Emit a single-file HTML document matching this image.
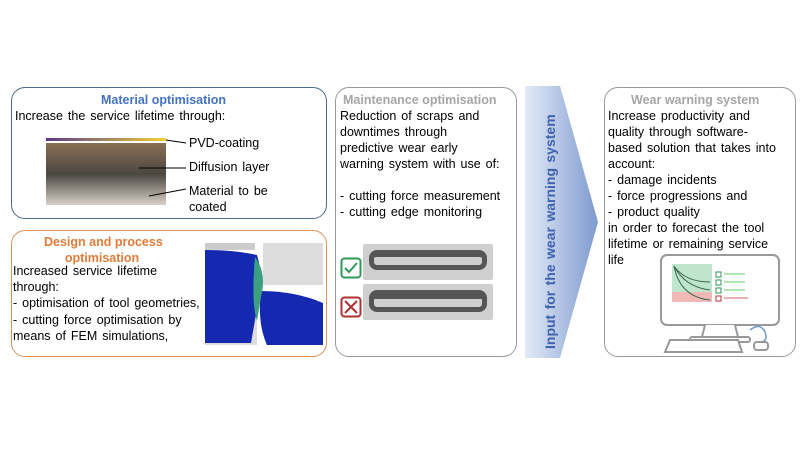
<!DOCTYPE html>
<html><head><meta charset="utf-8"><style>
*{margin:0;padding:0;box-sizing:border-box}
body{width:804px;height:452px;background:#fff;position:relative;overflow:hidden;font-family:"Liberation Sans",sans-serif;font-size:12.5px;word-spacing:1.5px;color:#000}
.b{position:absolute;border-radius:14px;background:#fff}
.t{position:absolute;white-space:nowrap;line-height:16px}
.h{font-weight:bold;font-size:12.5px;word-spacing:0}
</style></head><body>
<div class="b" style="left:11px;top:87px;width:316px;height:132px;border:1px solid #4a6a95"></div>
<div class="b" style="left:11px;top:230px;width:316px;height:127px;border:1px solid #d9925a"></div>
<div class="b" style="left:335px;top:87px;width:182px;height:270px;border:1px solid #999"></div>
<div class="b" style="left:604px;top:87px;width:192px;height:270px;border:1px solid #999"></div>
<svg style="position:absolute;left:520px;top:86px" width="84" height="272">
<defs><linearGradient id="g" x1="0" x2="1"><stop offset="0" stop-color="#e4ebf7"/><stop offset="1" stop-color="#7e9ad0"/></linearGradient></defs>
<polygon points="5,0 40,0 78,136 40,272 5,272" fill="url(#g)"/>
<text transform="translate(35,263) rotate(-90)" font-family="Liberation Sans" font-weight="bold" font-size="14" fill="#3d62b0">Input for the wear warning system</text>
</svg>
<div class="t h" style="left:101px;top:92px;color:#4472c4">Material optimisation</div>
<div class="t" style="left:15px;top:108px">Increase the service lifetime through:</div>
<svg style="position:absolute;left:44px;top:136px" width="150" height="72">
<defs><linearGradient id="c" x1="0" x2="1"><stop offset="0" stop-color="#5a3a8a"/><stop offset="1" stop-color="#f0d030"/></linearGradient>
<linearGradient id="m" x1="0" y1="0" x2="0" y2="1"><stop offset="0" stop-color="#8a7055"/><stop offset=".5" stop-color="#4a4640"/><stop offset="1" stop-color="#d8d0c8"/></linearGradient></defs>
<rect x="2" y="2" width="120" height="3" fill="url(#c)"/>
<rect x="2" y="7" width="120" height="62" fill="url(#m)"/>
<line x1="122" y1="4" x2="142" y2="7" stroke="#000"/>
<line x1="95" y1="32" x2="142" y2="32" stroke="#000"/>
<line x1="105" y1="60" x2="142" y2="53" stroke="#000"/>
</svg>
<div class="t" style="left:189px;top:135px">PVD-coating</div>
<div class="t" style="left:189px;top:159px">Diffusion layer</div>
<div class="t" style="left:189px;top:183px">Material to be<br>coated</div>
<div class="t h" style="left:44px;top:234px;color:#e07b39;line-height:16px">Design and process<br>&nbsp;&nbsp;&nbsp;&nbsp;&nbsp;&nbsp;optimisation</div>
<div class="t" style="left:13px;top:263px;line-height:16.2px">Increased service lifetime<br>through:<br>- optimisation of tool geometries,<br>- cutting force optimisation by<br>means of FEM simulations,</div>
<svg style="position:absolute;left:205px;top:243px" width="118" height="102">
<rect x="0" y="0" width="118" height="102" fill="#fff"/>
<rect x="0" y="0" width="50" height="7" fill="#ccc"/>
<rect x="58" y="0" width="60" height="42" fill="#ddd"/>
<rect x="0" y="64" width="52" height="38" fill="#ddd"/>
<path d="M0,7 Q30,7 52,12 Q60,40 54,54 L46,100 L0,100 Z" fill="#1428b0"/>
<path d="M56,48 Q90,48 118,60 L118,102 L62,102 Q52,80 56,48 Z" fill="#1428b0"/>
<path d="M50,14 Q62,30 56,54 L52,78 Q46,60 50,14Z" fill="#3aa080"/>
</svg>
<div class="t h" style="left:343px;top:92px;color:#a6a6a6">Maintenance optimisation</div>
<div class="t" style="left:340px;top:108px">Reduction of scraps and<br>downtimes through<br>predictive wear early<br>warning system with use of:<br><br>- cutting force measurement<br>- cutting edge monitoring</div>
<div style="position:absolute;left:363px;top:244px;width:130px;height:36px;background:#cfcfcf;border-radius:2px"><div style="margin:6px 6px;height:20px;border:5px solid #555;border-top-width:7px;border-radius:8px"></div></div>
<div style="position:absolute;left:363px;top:284px;width:130px;height:36px;background:#cfcfcf;border-radius:2px"><div style="margin:6px 6px;height:22px;border:5px solid #555;border-top-width:9px;border-radius:8px"></div></div>
<svg style="position:absolute;left:340px;top:257px" width="24" height="64">
<rect x="1.5" y="1.5" width="19" height="19" rx="3" fill="#fff" stroke="#2e9a5a" stroke-width="2"/>
<path d="M5,11 L9,15 L17,6" fill="none" stroke="#2e9a5a" stroke-width="2"/>
<rect x="1.5" y="40.5" width="19" height="19" rx="3" fill="#fff" stroke="#b03030" stroke-width="2"/>
<path d="M5,44 L17,56 M17,44 L5,56" stroke="#b03030" stroke-width="2"/>
</svg>
<div class="t h" style="left:631px;top:92px;color:#a6a6a6">Wear warning system</div>
<div class="t" style="left:608px;top:108px">Increase productivity and<br>quality through software-<br>based solution that takes into<br>account:<br>- damage incidents<br>- force progressions and<br>- product quality<br>in order to forecast the tool<br>lifetime or remaining service<br>life</div>
<svg style="position:absolute;left:650px;top:252px" width="140" height="104">
<rect x="11" y="3" width="118" height="70" rx="6" fill="#fff" stroke="#999" stroke-width="2"/>
<rect x="22" y="12" width="40" height="38" fill="#bfe5cc"/>
<rect x="22" y="40" width="40" height="10" fill="#f2b8b8"/>
<path d="M24,14 Q35,30 60,30 M24,14 Q35,35 60,38 M24,14 Q30,45 60,48" stroke="#3a6a4a" fill="none"/>
<rect x="66" y="20" width="5" height="5" fill="none" stroke="#2e9a5a"/><rect x="66" y="28" width="5" height="5" fill="none" stroke="#2e9a5a"/><rect x="66" y="36" width="5" height="5" fill="none" stroke="#2e9a5a"/><rect x="66" y="44" width="5" height="5" fill="none" stroke="#b03030"/>
<line x1="74" y1="22" x2="95" y2="22" stroke="#6c6"/><line x1="74" y1="30" x2="95" y2="30" stroke="#6c6"/><line x1="74" y1="38" x2="95" y2="38" stroke="#6c6"/><line x1="74" y1="46" x2="98" y2="46" stroke="#c66"/>
<path d="M55,73 L52,85 L88,85 L85,73" fill="#fff" stroke="#999" stroke-width="2"/>
<rect x="40" y="85" width="60" height="5" rx="2" fill="#fff" stroke="#999" stroke-width="2"/>
<path d="M20,88 L88,88 L92,100 L15,100 Z" fill="#fff" stroke="#999" stroke-width="2"/>
<path d="M100,78 Q110,70 115,80 Q118,88 112,90" fill="none" stroke="#6a9ad0" stroke-width="1.5"/>
<rect x="104" y="90" width="14" height="8" rx="3" fill="#fff" stroke="#999" stroke-width="2"/>
</svg>
</body></html>
